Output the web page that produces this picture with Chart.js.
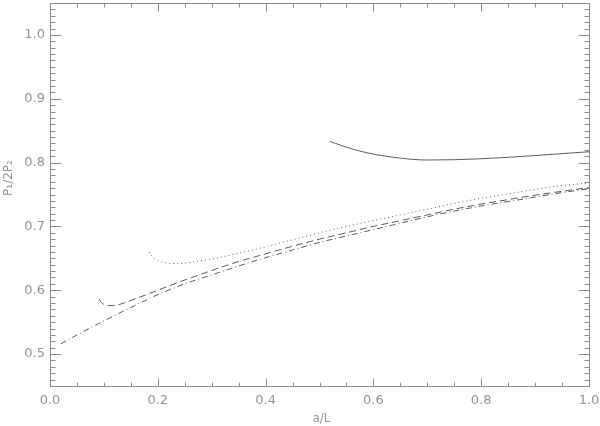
<!DOCTYPE html>
<html><head><meta charset="utf-8">
<script src="https://cdn.jsdelivr.net/npm/chart.js@4"></script>
<style>html,body{margin:0;padding:0;background:#fff}</style>
</head><body>
<canvas id="c" width="600" height="426"></canvas>
<script>
// Tick labels
const xTicks = [0.0, 0.2, 0.4, 0.6, 0.8, 1.0];
const yTicks = [0.5, 0.6, 0.7, 0.8, 0.9, 1.0];
const xTitle = 'a/L';
const yTitle = 'P\u2081/2P\u2082';

// Series
const solidX = [0.519, 0.53, 0.55, 0.59, 0.65, 0.70, 0.75, 0.80, 0.85, 0.90, 0.95, 1.0];
const solidY = [0.833, 0.830, 0.824, 0.815, 0.807, 0.804, 0.8045, 0.806, 0.8083, 0.811, 0.814, 0.817];

const dottedX = [0.184, 0.19, 0.20, 0.21, 0.223, 0.24, 0.27, 0.30, 0.35, 0.40, 0.45, 0.50, 0.55, 0.60, 0.65, 0.70, 0.75, 0.80, 0.85, 0.90, 0.95, 1.0];
const dottedY = [0.660, 0.653, 0.647, 0.644, 0.642, 0.642, 0.645, 0.649, 0.658, 0.668, 0.679, 0.690, 0.700, 0.709, 0.718, 0.727, 0.736, 0.744, 0.751, 0.758, 0.764, 0.768];

const dashedX = [0.0915, 0.095, 0.10, 0.105, 0.115, 0.125, 0.15, 0.20, 0.25, 0.30, 0.35, 0.40, 0.45, 0.50, 0.55, 0.60, 0.65, 0.70, 0.75, 0.80, 0.85, 0.90, 0.95, 1.0];
const dashedY = [0.586, 0.581, 0.578, 0.576, 0.576, 0.577, 0.584, 0.600, 0.616, 0.631, 0.645, 0.657, 0.669, 0.680, 0.690, 0.700, 0.709, 0.718, 0.727, 0.735, 0.742, 0.749, 0.755, 0.761];

const dashdotX = [0.02, 0.05, 0.10, 0.15, 0.20, 0.25, 0.30, 0.35, 0.40, 0.45, 0.50, 0.55, 0.60, 0.65, 0.70, 0.75, 0.80, 0.85, 0.90, 0.95, 1.0];
const dashdotY = [0.516, 0.530, 0.552, 0.573, 0.593, 0.610, 0.624, 0.638, 0.651, 0.663, 0.675, 0.685, 0.695, 0.705, 0.715, 0.724, 0.732, 0.739, 0.746, 0.753, 0.759];

const xMin = 0.0, xMax = 1.0, yMin = 0.45, yMax = 1.05;
const xMinorStep = 0.05, yMinorStep = 0.01;

const pts = (xs, ys) => xs.map((x, i) => ({x: x, y: ys[i]}));

const lineCol = '#5a5a5a';
const axisCol = '#8c8c8c';
const textCol = '#939393';
const fontFam = '"DejaVu Sans", "Liberation Sans", sans-serif';

function ds(data, dash) {
  return {data: data, showLine: true, borderColor: lineCol, borderWidth: 1,
    borderDash: dash, pointRadius: 0, fill: false, cubicInterpolationMode: 'monotone'};
}

const frame = {
  id: 'frame',
  afterDraw(chart) {
    const ctx = chart.ctx, a = chart.chartArea;
    const xs = chart.scales.x, ys = chart.scales.y;
    ctx.save();
    ctx.strokeStyle = axisCol;
    ctx.lineWidth = 1;
    ctx.setLineDash([]);
    const L = Math.round(a.left) + 0.5, R = Math.round(a.right) + 0.5;
    const T = Math.round(a.top) + 0.5, B = Math.round(a.bottom) + 0.5;
    ctx.beginPath();
    ctx.rect(L, T, R - L, B - T);
    const nx = Math.round((xMax - xMin) / xMinorStep);
    for (let i = 0; i <= nx; i++) {
      const v = xMin + i * xMinorStep;
      const major = xTicks.some(t => Math.abs(t - v) < 1e-9);
      const len = major ? 8 : 4;
      const px = Math.round(xs.getPixelForValue(v)) + 0.5;
      ctx.moveTo(px, B); ctx.lineTo(px, B - len);
      ctx.moveTo(px, T); ctx.lineTo(px, T + len);
    }
    const ny = Math.round((yMax - yMin) / yMinorStep);
    for (let i = 0; i <= ny; i++) {
      const v = yMin + i * yMinorStep;
      const major = yTicks.some(t => Math.abs(t - v) < 1e-9);
      const len = major ? 11 : 5;
      const py = Math.round(ys.getPixelForValue(v)) + 0.5;
      ctx.moveTo(L, py); ctx.lineTo(L + len, py);
      ctx.moveTo(R, py); ctx.lineTo(R - len, py);
    }
    ctx.stroke();
    ctx.fillStyle = textCol;
    ctx.font = '12px ' + fontFam;
    ctx.textAlign = 'center';
    ctx.textBaseline = 'middle';
    ctx.fillText(xTitle, (a.left + a.right) / 2 + 2, 419);
    ctx.translate(9, 178);
    ctx.rotate(-Math.PI / 2);
    ctx.fillText(yTitle, 0, 0);
    ctx.restore();
  }
};

new Chart(document.getElementById('c'), {
  type: 'scatter',
  data: {datasets: [
    ds(pts(solidX, solidY), []),
    ds(pts(dottedX, dottedY), [1, 3]),
    ds(pts(dashedX, dashedY), [7, 4]),
    ds(pts(dashdotX, dashdotY), [6, 3, 1, 3])
  ]},
  options: {
    responsive: false,
    animation: false,
    layout: {padding: {top: 3, right: 11, left: 0, bottom: 0}},
    plugins: {legend: {display: false}, tooltip: {enabled: false}},
    scales: {
      x: {
        type: 'linear', min: xMin, max: xMax,
        grid: {display: false, drawTicks: false},
        border: {display: false},
        afterBuildTicks: s => { s.ticks = xTicks.map(v => ({value: v})); },
        afterFit: s => { s.height = 40; s.paddingLeft = 0; s.paddingRight = 0; s.paddingTop = 0; s.paddingBottom = 0; },
        ticks: {callback: v => Number(v).toFixed(1), padding: 7, color: textCol,
          font: {family: fontFam, size: 13}, maxRotation: 0, autoSkip: false}
      },
      y: {
        type: 'linear', min: yMin, max: yMax,
        grid: {display: false, drawTicks: false},
        border: {display: false},
        afterBuildTicks: s => { s.ticks = yTicks.map(v => ({value: v})); },
        afterFit: s => { s.width = 50; s.paddingLeft = 0; s.paddingRight = 0; s.paddingTop = 0; s.paddingBottom = 0; },
        ticks: {callback: v => Number(v).toFixed(1), padding: 5, color: textCol,
          font: {family: fontFam, size: 13}, autoSkip: false}
      }
    }
  },
  plugins: [frame]
});
</script>
</body></html>
